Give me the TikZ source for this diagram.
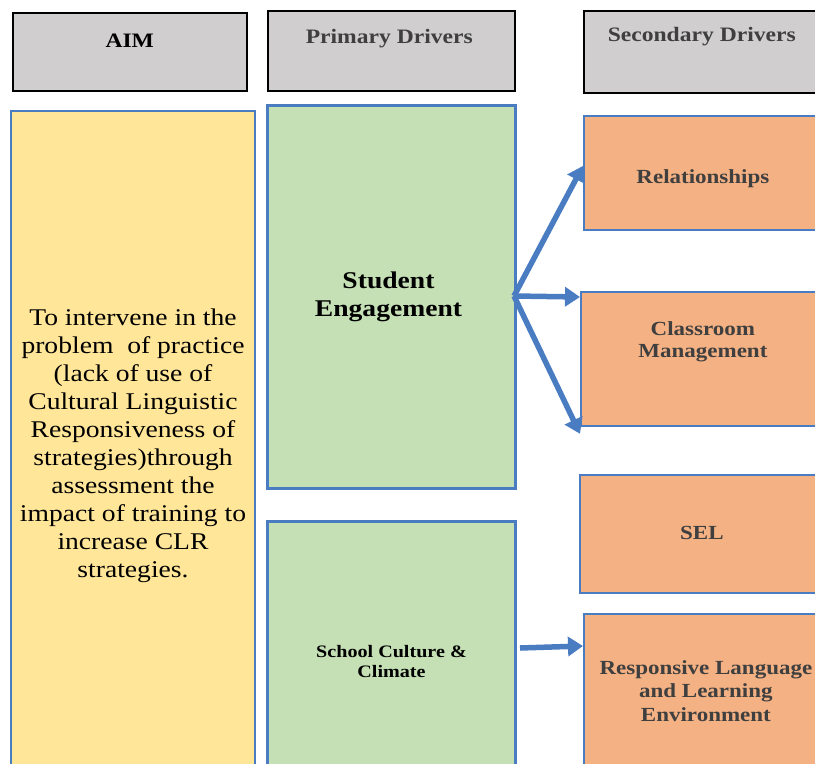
\documentclass[tikz,border=0pt]{standalone}
\usepackage{fontspec}
\setmainfont[FakeStretch=1.15]{Liberation Serif}
\usetikzlibrary{arrows.meta, positioning}

\definecolor{headgray}{HTML}{D0CECE}
\definecolor{aimyellow}{HTML}{FFE699}
\definecolor{drvgreen}{HTML}{C5E0B4}
\definecolor{drvorange}{HTML}{F4B183}
\definecolor{edgeblue}{HTML}{4A7CC2}
\definecolor{headtext}{HTML}{3F3F3F}

\begin{document}
\begin{tikzpicture}[x=1pt, y=-1pt,
    head/.style={draw=black, line width=1.5pt, fill=headgray, anchor=north west, inner sep=0pt},
    aimbox/.style={draw=edgeblue, line width=2pt, fill=aimyellow, anchor=north west, inner sep=0pt},
    pribox/.style={draw=edgeblue, line width=3pt, fill=drvgreen, anchor=north west, inner sep=0pt},
    secbox/.style={draw=edgeblue, line width=1.8pt, fill=drvorange, anchor=north west, inner sep=0pt},
    headlbl/.style={font=\bfseries\fontsize{20.5}{24}\selectfont},
    seclbl/.style={align=center, text=headtext, font=\bfseries\fontsize{20}{23.5}\selectfont},
    link/.style={draw=edgeblue, line width=5.5pt, -{Triangle[width=19pt,length=15pt]}}]
  \useasboundingbox (0,0) rectangle (815,764);

  % column headings
  \node[head, minimum width=234pt, minimum height=78pt] (haim) at (12,12) {};
  \node[head, minimum width=247pt, minimum height=80pt] (hpri) at (267,10) {};
  \node[head, minimum width=250pt, minimum height=82pt] (hsec) at (583,10) {};
  \node[headlbl] (taim) at ([yshift=-29pt]haim.north) {AIM};
  \node[headlbl, text=headtext] (tpri) at ([xshift=-2pt,yshift=-29pt]hpri.north) {Primary Drivers};
  \node[headlbl, text=headtext] (tsec) at ([xshift=-7pt,yshift=-27pt]hsec.north) {Secondary Drivers};

  % aim
  \node[aimbox, minimum width=244pt, minimum height=664pt] (aim) at (10,110) {};
  \node[align=center, font=\fontsize{24}{28}\selectfont] (taimtxt) at ([yshift=-3pt]aim.center) {To intervene in the\\problem \ of practice\\(lack of use of\\Cultural Linguistic\\Responsiveness of\\strategies)through\\assessment the\\impact of training to\\increase CLR\\strategies.};

  % primary drivers
  \node[pribox, minimum width=248pt, minimum height=383pt] (eng) at (266,104) {};
  \node[align=center, font=\bfseries\fontsize{24}{28}\selectfont] (teng) at ([xshift=-3pt]eng.center) {Student\\Engagement};
  \node[pribox, minimum width=248pt, minimum height=280pt] (cul) at (266,520) {};
  \node[align=center, font=\bfseries\fontsize{17.5}{20}\selectfont] (tcul) at (cul.center) {School Culture \&\\Climate};

  % secondary drivers
  \node[secbox, minimum width=250pt, minimum height=114pt] (rel) at (583,115) {};
  \node[seclbl] (trel) at ([xshift=-6pt,yshift=-6pt]rel.center) {Relationships};
  \node[secbox, minimum width=250pt, minimum height=134pt] (cls) at (580,291) {};
  \node[seclbl, font=\bfseries\fontsize{20}{22.5}\selectfont] (tcls) at ([xshift=-3pt,yshift=17pt]cls.center) {Classroom\\Management};
  \node[secbox, minimum width=250pt, minimum height=118pt] (sel) at (579,474) {};
  \node[seclbl] (tsel) at ([xshift=-3pt,yshift=1pt]sel.center) {SEL};
  \node[secbox, minimum width=250pt, minimum height=154pt] (rsp) at (583,613) {};
  \node[seclbl] (trsp) at ([xshift=-3pt]rsp.center) {Responsive Language\\and Learning\\Environment};

  % links
  \coordinate (fork) at (514,296);
  \coordinate (cstart) at (520,648);
  \draw[link] (fork) -- ([yshift=7pt]rel.west);
  \draw[link] (fork) -- ([yshift=-6pt]cls.north west);
  \draw[link] (fork) -- ([yshift=-7pt]cls.south west);
  \draw[link] (cstart) -- ([yshift=-33pt]rsp.north west);
\end{tikzpicture}
\end{document}
